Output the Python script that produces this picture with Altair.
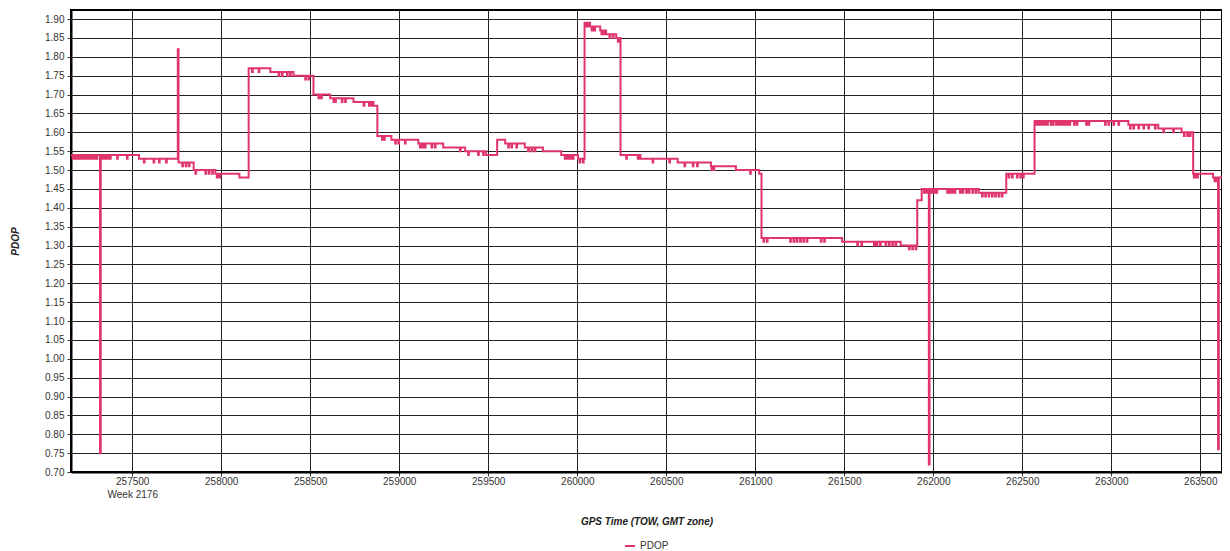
import bisect
import altair as alt
import pandas as pd

# Step levels of PDOP (GPS time of week, seconds)
level_tow = [257156, 257538, 257760, 257845, 257967, 258102, 258154, 258276, 258406,
             258518, 258612, 258743, 258855, 258877, 258956, 259107, 259247, 259370,
             259488, 259550, 259595, 259705, 259807, 259910, 260004, 260041, 260072,
             260129, 260162, 260219, 260243, 260355, 260564, 260751, 260891, 261022,
             261035, 261488, 261817, 261910, 261935, 262255, 262410, 262569, 263096,
             263264, 263395, 263460, 263572, 263642]
level_pdop = [1.54, 1.53, 1.52, 1.50, 1.49, 1.48, 1.77, 1.76, 1.75,
              1.70, 1.69, 1.68, 1.67, 1.59, 1.58, 1.57, 1.56, 1.55,
              1.54, 1.58, 1.57, 1.56, 1.55, 1.54, 1.53, 1.89, 1.88,
              1.87, 1.86, 1.85, 1.54, 1.53, 1.52, 1.51, 1.50, 1.49,
              1.32, 1.31, 1.30, 1.42, 1.45, 1.44, 1.49, 1.63, 1.62,
              1.61, 1.60, 1.49, 1.48, 1.48]

# Short blips (momentary dips / spikes) away from the current level
blip_tow = [257165, 257180, 257195, 257210, 257225, 257240, 257255, 257270, 257285, 257300,
            257319, 257330, 257345, 257360, 257375, 257415, 257470,
            257565, 257620, 257650, 257690, 257756,
            257781, 257800, 257818,
            257855, 257911, 257930, 257949, 257975, 257990,
            258173, 258210, 258322, 258341, 258369, 258387, 258472, 258490,
            258546, 258561, 258631, 258640, 258677, 258696,
            258800, 258830, 258845,
            258903, 258915, 258977, 258995, 259032,
            259116, 259125, 259134, 259144, 259181, 259200, 259341,
            259387, 259443, 259471,
            259612, 259630, 259658, 259724, 259743, 259761,
            259930, 259945, 259960, 259975, 260013, 260032,
            260050, 260063, 260081, 260096, 260136, 260148, 260181, 260200, 260228,
            260275, 260340, 260423, 260517, 260602, 260649, 260673,
            260755, 260765, 260971,
            261046, 261065, 261196, 261215, 261233, 261252, 261270, 261289, 261368, 261387,
            261573, 261596, 261667, 261682, 261701, 261732, 261751, 261770, 261788,
            261863, 261882, 261901,
            261948, 261960, 261975, 261990, 262005, 262018, 262078, 262090, 262105, 262120,
            262150, 262165, 262185, 262200, 262220, 262238,
            262274, 262292, 262311, 262330, 262348, 262367, 262385,
            262423, 262442, 262470, 262489, 262504,
            262578, 262590, 262600, 262612, 262625, 262640, 262660, 262672, 262690, 262705,
            262720, 262735, 262750, 262765, 262790, 262806, 262859, 262872, 262965, 262984,
            263012, 263040,
            263105, 263124, 263152, 263180, 263208, 263245,
            263292, 263348, 263408, 263427, 263442,
            263464, 263474, 263483, 263580, 263590, 263600]
blip_pdop = [1.53, 1.53, 1.53, 1.53, 1.53, 1.53, 1.53, 1.53, 1.53, 1.53,
             0.75, 1.53, 1.53, 1.53, 1.53, 1.53, 1.53,
             1.52, 1.52, 1.52, 1.52, 1.82,
             1.51, 1.51, 1.51,
             1.49, 1.49, 1.49, 1.49, 1.48, 1.48,
             1.76, 1.76, 1.75, 1.75, 1.75, 1.75, 1.74, 1.74,
             1.69, 1.69, 1.68, 1.68, 1.68, 1.68,
             1.67, 1.67, 1.67,
             1.58, 1.58, 1.57, 1.57, 1.57,
             1.56, 1.56, 1.56, 1.56, 1.56, 1.56, 1.55,
             1.54, 1.54, 1.54,
             1.56, 1.56, 1.56, 1.55, 1.55, 1.55,
             1.53, 1.53, 1.53, 1.53, 1.52, 1.52,
             1.88, 1.88, 1.87, 1.87, 1.86, 1.86, 1.85, 1.85, 1.84,
             1.53, 1.53, 1.52, 1.52, 1.51, 1.51, 1.51,
             1.50, 1.50, 1.49,
             1.31, 1.31, 1.31, 1.31, 1.31, 1.31, 1.31, 1.31, 1.31, 1.31,
             1.30, 1.30, 1.30, 1.30, 1.30, 1.30, 1.30, 1.30, 1.30,
             1.29, 1.29, 1.29,
             1.44, 1.44, 0.72, 1.44, 1.44, 1.44, 1.44, 1.44, 1.44, 1.44,
             1.44, 1.44, 1.44, 1.44, 1.44, 1.44,
             1.43, 1.43, 1.43, 1.43, 1.43, 1.43, 1.43,
             1.48, 1.48, 1.48, 1.48, 1.48,
             1.62, 1.62, 1.62, 1.62, 1.62, 1.62, 1.62, 1.62, 1.62, 1.62,
             1.62, 1.62, 1.62, 1.62, 1.62, 1.62, 1.62, 1.62, 1.62, 1.62,
             1.62, 1.62,
             1.61, 1.61, 1.61, 1.61, 1.61, 1.61,
             1.60, 1.60, 1.59, 1.59, 1.59,
             1.48, 1.48, 1.48, 1.47, 1.47, 0.76]
BLIP_SECONDS = 4

x_tick_values = [257500, 258000, 258500, 259000, 259500, 260000, 260500,
                 261000, 261500, 262000, 262500, 263000, 263500]
y_tick_values = [0.70, 0.75, 0.80, 0.85, 0.90, 0.95, 1.00, 1.05, 1.10, 1.15, 1.20,
                 1.25, 1.30, 1.35, 1.40, 1.45, 1.50, 1.55, 1.60, 1.65, 1.70, 1.75,
                 1.80, 1.85, 1.90]
series_name = "PDOP"
line_color = "#E0356B"


def level_at(t):
    i = bisect.bisect_right(level_tow, t) - 1
    return level_pdop[max(i, 0)]


rows = list(zip(level_tow, level_pdop))
for t, v in zip(blip_tow, blip_pdop):
    rows.append((t, v))
    rows.append((t + BLIP_SECONDS, level_at(t + BLIP_SECONDS)))
rows.sort(key=lambda r: r[0])

df = pd.DataFrame({"tow": [r[0] for r in rows],
                   "pdop": [r[1] for r in rows],
                   "series": series_name})

font = "Liberation Sans"

chart = alt.Chart(df).mark_line(
    interpolate="step-after", strokeWidth=2, clip=True
).encode(
    x=alt.X("tow:Q",
            scale=alt.Scale(domain=[257156, 263622], nice=False, zero=False),
            axis=alt.Axis(values=x_tick_values, format="d",
                          labelExpr="datum.value == 257500 ? ['257500', 'Week 2176'] : datum.label",
                          labelLineHeight=13, labelPadding=5, labelBaseline="middle",
                          title="GPS Time (TOW, GMT zone)", titleY=49,
                          titleBaseline="middle")),
    y=alt.Y("pdop:Q",
            scale=alt.Scale(domain=[0.70, 1.924], nice=False, zero=False),
            axis=alt.Axis(values=y_tick_values, format=".2f", labelPadding=3,
                          title="PDOP", titleX=-56, titleBaseline="middle")),
    color=alt.Color("series:N",
                    scale=alt.Scale(domain=[series_name], range=[line_color]),
                    legend=alt.Legend(title=None, orient="none", legendX=553, legendY=530,
                                      symbolType="stroke", symbolStrokeWidth=2,
                                      symbolSize=100, labelFont=font, labelFontSize=10,
                                      labelColor="#333", padding=0)),
).properties(
    width=1151, height=462,
    autosize=alt.AutoSizeParams(type="none"),
    padding={"left": 63, "top": 2, "right": 0, "bottom": 78},
).configure_view(
    stroke="#000", strokeWidth=2
).configure_axis(
    domainColor="#000", domainWidth=2,
    gridColor="#222", gridWidth=1, gridOpacity=1,
    tickColor="#333", tickSize=4,
    labelFont=font, labelFontSize=10, labelColor="#333",
    titleFont=font, titleFontSize=10, titleFontStyle="italic",
    titleFontWeight="bold", titleColor="#222",
)

chart.save("out.html", embed_options={"renderer": "svg", "actions": False})
